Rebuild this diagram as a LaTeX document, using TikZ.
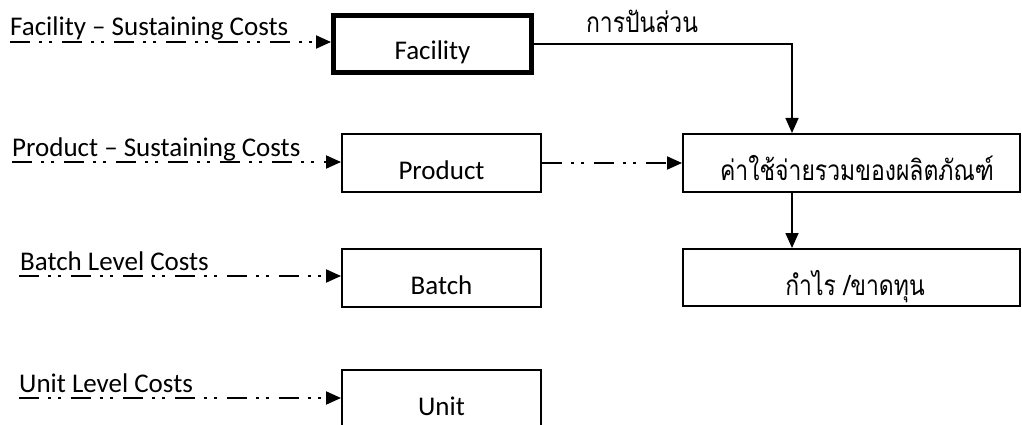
\documentclass[tikz,border=0pt]{standalone}
\usepackage{fontspec}
\setmainfont{Carlito}
\newfontfamily\thai[Script=Thai,FakeStretch=0.82]{Loma}
\usetikzlibrary{arrows.meta,calc}
\begin{document}
\begin{tikzpicture}[x=1pt,y=-1pt,
  box/.style={draw,line width=2pt,minimum width=199pt,minimum height=58pt,inner sep=0pt},
  wbox/.style={draw,line width=2pt,minimum width=337pt,minimum height=58pt,inner sep=0pt},
  boxtext/.style={anchor=base,inner sep=0pt,font=\fontsize{27}{30}\selectfont},
  thaitext/.style={anchor=base,inner sep=0pt,font=\thai\fontsize{28}{32}\selectfont},
  lbl/.style={anchor=base west,inner sep=0pt,font=\fontsize{27}{30}\selectfont},
  tip/.style={-{Triangle[length=15pt,width=13pt]}},
  ddot/.style={tip,line width=2pt,dash pattern=on 20pt off 9pt on 3pt off 7pt on 3pt off 10pt},
  solid arrow/.style={tip,line width=1.6pt}]
\useasboundingbox (0,0) rectangle (1022,425);
% boxes
\node[box,line width=5pt,minimum width=198pt,minimum height=57pt] (fac) at (432.5,44) {};
\node[boxtext] (tfac) at (432.5,60) {Facility};
\node[box] (prod) at (441.5,163) {};
\node[boxtext] (tprod) at (441.5,179) {Product};
\node[box] (batch) at (441.5,278) {};
\node[boxtext] (tbatch) at (441.5,294) {Batch};
\node[box] (unit) at (441.5,399) {};
\node[boxtext] (tunit) at (441.5,415) {Unit};
\node[wbox] (cost) at (851.5,163) {};
\node[thaitext] (tcost) at (857,180) {ค่าใช้จ่ายรวมของผลิตภัณฑ์};
\node[wbox,minimum height=57pt] (prof) at (851.5,277.5) {};
\node[thaitext] (tprof) at (855,295) {กำไร /ขาดทุน};
% left labels
\node[lbl] (lf) at (10,36) {Facility – Sustaining Costs};
\node[lbl] (lp) at (12,156) {Product – Sustaining Costs};
\node[lbl] (lb) at (20,270) {Batch Level Costs};
\node[lbl] (lu) at (19,392) {Unit Level Costs};
\coordinate (sf) at (10,42);
\coordinate (sp) at (12,162);
\coordinate (sb) at (19,276);
\coordinate (su) at (19,398);
\draw[ddot] (sf) -- (sf -| fac.west);
\draw[ddot] (sp) -- (sp -| prod.west);
\draw[ddot] (sb) -- (sb -| batch.west);
\draw[ddot] (su) -- (su -| unit.west);
% right connectors
\coordinate (cx) at ($(cost.north west)+(110,0)$);
\draw[solid arrow] (fac.east) -| (cx);
\node[thaitext] (alloc) at (642,33) {การปันส่วน};
\draw[ddot] (prod.east) -- (cost.west);
\draw[solid arrow] (cost.south -| cx) -- (prof.north -| cx);
\end{tikzpicture}
\end{document}
